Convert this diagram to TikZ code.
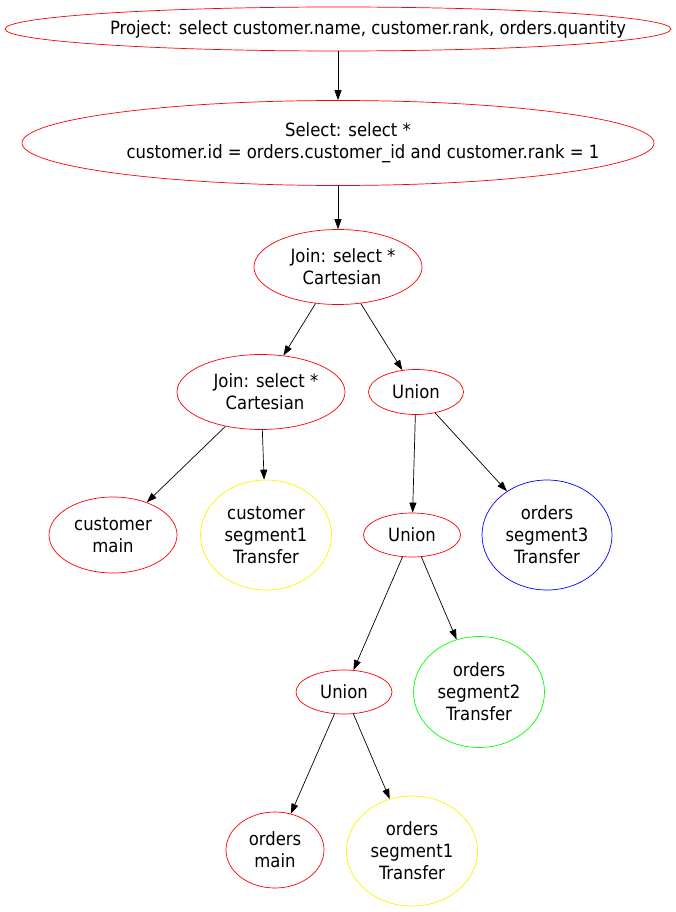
\documentclass[tikz,border=0pt]{standalone}
\usepackage{fontspec}
\setmainfont{DejaVu Sans Condensed}
\usepackage{tikz}
\usetikzlibrary{shapes.geometric,arrows.meta,positioning}
\newcommand{\shiftline}[2]{\makebox[0pt]{\hspace*{#1}#2}}

\begin{document}
\begin{tikzpicture}
      [x=1pt, y=-1pt, line width=0.7pt,
      node red/.style={draw=red, ellipse, align=center, inner sep=0pt, font=\fontsize{18.3}{22}\selectfont},
      node yellow/.style={node red, draw=yellow},
      node green/.style={node red, draw=green},
      node blue/.style={node red, draw=blue},
      edge/.style={draw, -{Triangle[length=10pt, width=7pt]}},
      ]
      \useasboundingbox (0,0) rectangle (676,912);

      % operators
      \node[node red, minimum width=666pt, minimum height=44pt] (project) at (338,29)
        {\shiftline{60pt}{Project: select customer.name, customer.rank, orders.quantity}};
      \node[node red, minimum width=632pt, minimum height=85pt] (select) at (338,143)
        {\shiftline{20pt}{Select: select *}\\\shiftline{50pt}{customer.id = orders.customer\_id and customer.rank = 1}};
      \node[node red, minimum width=168pt, minimum height=75pt] (join1) at (338,267)
        {\shiftline{10pt}{Join: select *}\\\shiftline{8pt}{Cartesian}};
      \node[node red, minimum width=168pt, minimum height=75pt] (join2) at (261,392)
        {\shiftline{10pt}{Join: select *}\\\shiftline{8pt}{Cartesian}};
      \node[node red, minimum width=95pt, minimum height=45pt] (union1) at (416,392) {Union};
      \node[node red, minimum width=97pt, minimum height=44pt] (union2) at (412,535) {Union};
      \node[node red, minimum width=96pt, minimum height=44pt] (union3) at (344,692) {Union};

      % leaves
      \node[node red, minimum width=128pt, minimum height=76pt] (custmain) at (113,535)
        {customer\\main};
      \node[node yellow, minimum width=131pt, minimum height=110pt] (custseg1) at (266,535)
        {customer\\segment1\\Transfer};
      \node[node blue, minimum width=130pt, minimum height=110pt] (ordseg3) at (547,535)
        {orders\\segment3\\Transfer};
      \node[node green, minimum width=131pt, minimum height=111pt] (ordseg2) at (479,692)
        {orders\\segment2\\Transfer};
      \node[node red, minimum width=98pt, minimum height=76pt] (ordmain) at (275,850)
        {orders\\main};
      \node[node yellow, minimum width=131pt, minimum height=110pt] (ordseg1) at (412,851)
        {orders\\segment1\\Transfer};

      % edges
      \draw[edge] (project) -- (select);
      \draw[edge] (select) -- (join1);
      \draw[edge] (join1) -- (join2);
      \draw[edge] (join1) -- (union1);
      \draw[edge] (join2) -- (custmain);
      \draw[edge] (join2) -- (custseg1);
      \draw[edge] (union1) -- (union2);
      \draw[edge] (union1) -- (ordseg3);
      \draw[edge] (union2) -- (union3);
      \draw[edge] (union2) -- (ordseg2);
      \draw[edge] (union3) -- (ordmain);
      \draw[edge] (union3) -- (ordseg1);
    \end{tikzpicture}
\end{document}
